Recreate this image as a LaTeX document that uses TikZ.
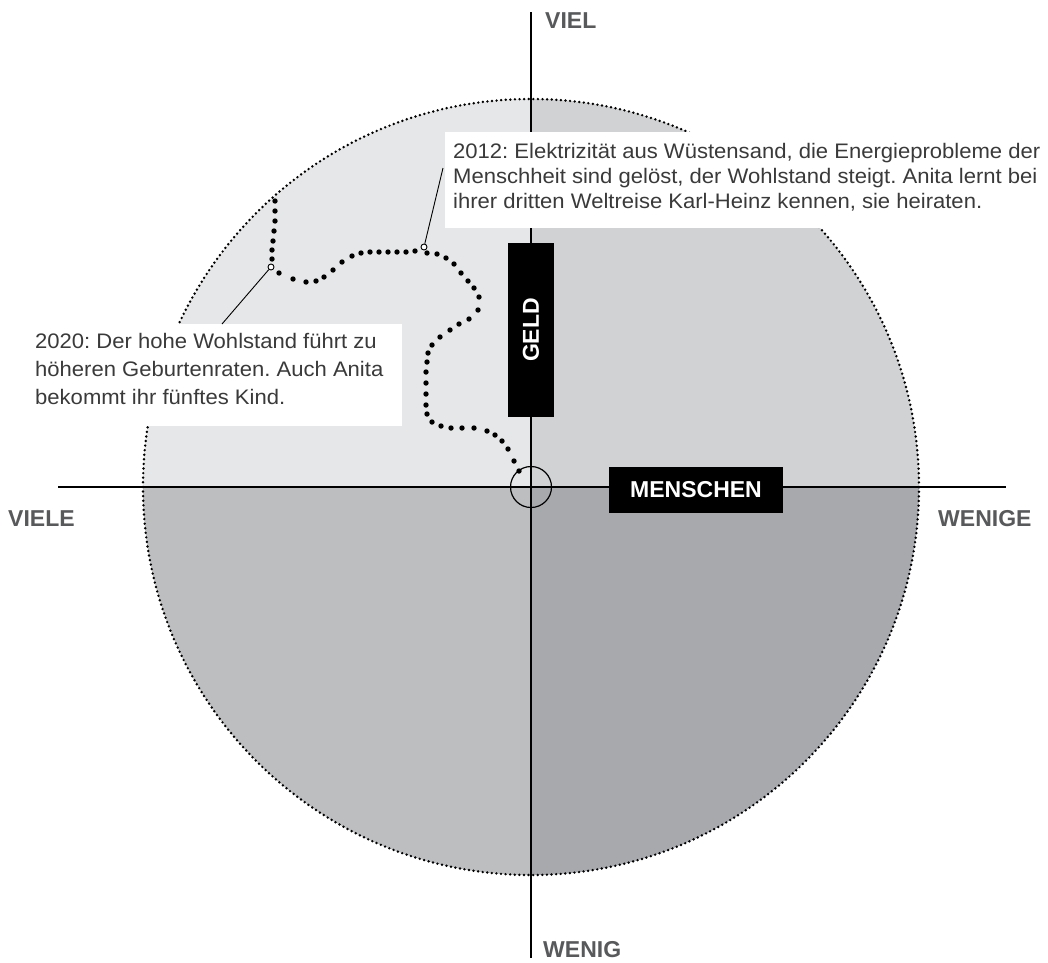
\documentclass[tikz,border=0pt]{standalone}
\usepackage{fontspec}
\setmainfont{Liberation Sans}
\newfontfamily\bodyfont[FakeStretch=1.05]{Liberation Sans}
\definecolor{qTL}{HTML}{E6E7E8}
\definecolor{qTR}{HTML}{D1D2D4}
\definecolor{qBL}{HTML}{BCBEC0}
\definecolor{qBR}{HTML}{A7A9AC}
\definecolor{labelgray}{HTML}{58595B}
\definecolor{textgray}{HTML}{3A3A3A}
\begin{document}
\frenchspacing
\begin{tikzpicture}[x=1pt,y=-1pt,
  lbl/.style={font=\fontsize{23}{23}\selectfont\bfseries, text=labelgray, inner sep=0pt, anchor=base west},
  txt/.style={font=\bodyfont\fontsize{21}{25}\selectfont, text=textgray, inner sep=0pt, anchor=base west},
  whitebox/.style={fill=white, draw=none, inner sep=0pt, anchor=north west},
  blackbox/.style={fill=black, text=white, inner sep=0pt, font=\fontsize{23}{23}\selectfont\bfseries},
  axis/.style={line width=1.6pt},
  marker/.style={circle, draw, fill=white, line width=0.9pt, minimum size=6pt, inner sep=0pt},
  leader/.style={line width=0.9pt},
  pathdot/.style={fill=black}]
\useasboundingbox (0,0) rectangle (1048,962);
\coordinate (O) at (531,487);
% quadrants
\begin{scope}
  \clip (O) circle (388pt);
  \fill[qTL] (100,50) rectangle (531,487);
  \fill[qTR] (531,50) rectangle (960,487);
  \fill[qBL] (100,487) rectangle (531,920);
  \fill[qBR] (531,487) rectangle (960,920);
\end{scope}
\draw[line width=2.7pt, dash pattern=on 0pt off 4.6pt, line cap=round] (O) circle (388pt);
% axes
\coordinate (vtop) at (531,12);
\coordinate (vbot) at (531,958);
\coordinate (hleft) at (58,487);
\coordinate (hright) at (1006,487);
\draw[axis] (vtop) -- (vbot);
\draw[axis] (hleft) -- (hright);
% origin circle
\node[circle, draw, line width=1.2pt, minimum size=41pt, inner sep=0pt] (origin) at (O) {};
% trajectory dots
\foreach \p in {(275,201),(275,211),(275,221),(274,231),(273,241),(272,250),(272,259),
  (279,273),(293,279),(306,282),(316,281),(324,277),(333,270),(342,262),(352,256),(361,253),(370,252),(379,252),(388,252),(397,252),(406,252),(415,251),
  (427,253),(437,254),(446,258),(454,264),(461,273),(468,281),(474,288),(479,297),(478,310),(469,319),(459,324),(450,330),(440,337),(432,345),(428,353),(427,362),(426,372),(426,383),(426,394),(426,405),(427,414),(432,422),(441,426),(451,428),(462,428),(474,428),(487,431),(495,435),(502,441),(508,449),(514,461),(519,471)}
  \fill[pathdot] \p circle (2.7pt);
% markers
\node[marker] (m2020) at (271,267) {};
\node[marker] (m2012) at (424,247) {};
% text boxes
\node[whitebox, minimum width=603pt, minimum height=96pt] (box2012) at (445,132) {};
\node[whitebox, minimum width=377pt, minimum height=102pt] (box2020) at (25,324) {};
\coordinate (l2012) at (443,168);
\coordinate (l2020) at (222,324);
\draw[leader] (m2012) -- (l2012);
\draw[leader] (m2020) -- (l2020);
\node[txt] (t1a) at (453,158) {2012: Elektrizität aus Wüstensand, die Energieprobleme der};
\node[txt] (t1b) at (453,183) {Menschheit sind gelöst, der Wohlstand steigt. Anita lernt bei};
\node[txt] (t1c) at (453,208) {ihrer dritten Weltreise Karl-Heinz kennen, sie heiraten.};
\node[txt] (t2a) at (35,348) {2020: Der hohe Wohlstand führt zu};
\node[txt] (t2b) at (35,376) {höheren Geburtenraten. Auch Anita};
\node[txt] (t2c) at (35,404) {bekommt ihr fünftes Kind.};
% axis boxes
\node[blackbox, minimum width=46pt, minimum height=174pt] (geld) at (531,330) {\rotatebox{90}{GELD}};
\node[blackbox, minimum width=174pt, minimum height=46pt] (menschen) at (696,490) {MENSCHEN};
% axis labels
\node[lbl] (viel) at (545,28) {VIEL};
\node[lbl] (wenig) at (543,957) {WENIG};
\node[lbl] (viele) at (8,526) {VIELE};
\node[lbl] (wenige) at (938,526) {WENIGE};
\end{tikzpicture}
\end{document}
